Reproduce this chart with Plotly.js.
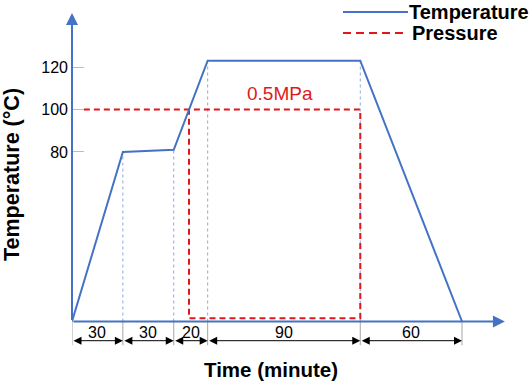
<!DOCTYPE html>
<html>
<head>
<meta charset="utf-8">
<script src="https://cdn.plot.ly/plotly-3.0.1.min.js"></script>
<style>html,body{margin:0;padding:0;background:#fff;}#chart{width:531px;height:384px;}</style>
</head>
<body>
<div id="chart"></div>
<script>
// ---- data ----
const minutes = [0, 30, 60, 80, 170, 230];          // cumulative process time
const temperature = [0, 80, 81, 123, 123, 0];       // °C
const pressureTime = [7, 170, 170, 69, 69];          // minutes
const pressureLevel = [100, 100, 1.5, 1.5, 100];     // drawn at 100 °C level
const stageLabels = ['30', '30', '20', '90', '60'];  // minutes per stage
const yTickVals = [80, 100, 120];
const yTickText = ['80', '100', '120'];
const seriesNames = ['Temperature', 'Pressure'];
const pressureText = '0.5MPa';
const xTitle = 'Time (minute)';
const yTitle = 'Temperature (\u00B0C)';

// ---- styling / layout ----
const W = 531, H = 384;
const M = {l: 72, r: 25, t: 10, b: 30};
const pw = W - M.l - M.r, ph = H - M.t - M.b;
const blue = '#4472C4', red = '#E0181C', guide = '#8EA9DB';
const FONT = 'Liberation Sans, Arial, sans-serif';
const px = x => (x - M.l) / pw;          // pixel -> paper x
const py = y => (H - M.b - y) / ph;      // pixel -> paper y

const xMax = pw / 1.6957;
const yPerPx = 1 / 2.12;
const yTop = (321.5 - M.t) * yPerPx;
const yBot = -(H - M.b - 321.5) * yPerPx;

const traces = [
  {x: pressureTime, y: pressureLevel, mode: 'lines', name: seriesNames[1],
   line: {color: red, width: 2, dash: '6px,4px'}, hoverinfo: 'skip'},
  {x: minutes, y: temperature, mode: 'lines', name: seriesNames[0],
   line: {color: blue, width: 2}, hoverinfo: 'skip'}
];

const shapes = [];
// light dashed guides from each break point down to the time axis
for (let i = 1; i < minutes.length - 1; i++) {
  shapes.push({type: 'line', layer: 'below', xref: 'x', yref: 'y',
    x0: minutes[i], x1: minutes[i], y0: 0, y1: temperature[i],
    line: {color: guide, width: 1, dash: '3px,3px'}});
}
// dimension extension lines below the axis
const dimBottom = -11.2;
for (let i = 0; i < minutes.length; i++) {
  shapes.push({type: 'line', layer: 'below', xref: 'x', yref: 'y',
    x0: minutes[i], x1: minutes[i], y0: 0, y1: dimBottom,
    line: {color: '#A6A6A6', width: 1}});
}
// legend samples
shapes.push({type: 'line', xref: 'paper', yref: 'paper', x0: px(343), x1: px(408), y0: py(12), y1: py(12),
  line: {color: blue, width: 2}});
shapes.push({type: 'line', xref: 'paper', yref: 'paper', x0: px(343), x1: px(408), y0: py(33), y1: py(33),
  line: {color: red, width: 2, dash: '8px,5px'}});

const annotations = [];
// axis arrows
annotations.push({x: 255.3, y: 0, ax: 0, ay: 0, xref: 'x', yref: 'y', axref: 'x', ayref: 'y', text: '',
  showarrow: true, arrowhead: 2, arrowsize: 1.2, arrowwidth: 2, arrowcolor: blue, standoff: 0});
annotations.push({x: 0, y: (321.5 - 13) * yPerPx, ax: 0, ay: 0, xref: 'x', yref: 'y', axref: 'x', ayref: 'y', text: '',
  showarrow: true, arrowhead: 2, arrowsize: 1.2, arrowwidth: 2, arrowcolor: blue, standoff: 0});
// dimension arrows + labels
const dimY = -(340.7 - 321.5) * yPerPx;
const labY = -(332 - 321.5) * yPerPx;
for (let i = 0; i < stageLabels.length; i++) {
  annotations.push({x: minutes[i + 1], y: dimY, ax: minutes[i], ay: dimY, xref: 'x', yref: 'y', axref: 'x', ayref: 'y',
    text: '', showarrow: true, arrowside: 'end+start', arrowhead: 2, startarrowhead: 2,
    arrowsize: 1.6, startarrowsize: 1.6, arrowwidth: 1, arrowcolor: '#000', standoff: 0, startstandoff: 0});
  annotations.push({x: (minutes[i] + minutes[i + 1]) / 2, y: labY, xref: 'x', yref: 'y', text: stageLabels[i],
    showarrow: false, font: {family: FONT, size: 16, color: '#000'}, xanchor: 'center', yanchor: 'middle'});
}
// pressure label
annotations.push({x: px(280), y: py(93), xref: 'paper', yref: 'paper', text: pressureText, showarrow: false,
  font: {family: FONT, size: 19, color: red}, xanchor: 'center', yanchor: 'middle'});
// legend text
annotations.push({x: px(407), y: py(12), xref: 'paper', yref: 'paper', text: '<b>' + seriesNames[0] + '</b>', showarrow: false,
  font: {family: FONT, size: 20, color: '#000'}, xanchor: 'left', yanchor: 'middle'});
annotations.push({x: px(410), y: py(33), xref: 'paper', yref: 'paper', text: '<b>' + seriesNames[1] + '</b>', showarrow: false,
  font: {family: FONT, size: 20, color: '#000'}, xanchor: 'left', yanchor: 'middle'});
// axis titles
annotations.push({x: px(271), y: py(369), xref: 'paper', yref: 'paper', text: '<b>' + xTitle + '</b>', showarrow: false,
  font: {family: FONT, size: 20.5, color: '#000'}, xanchor: 'center', yanchor: 'middle'});
annotations.push({x: px(12), y: py(175), xref: 'paper', yref: 'paper', text: '<b>' + yTitle + '</b>', showarrow: false,
  textangle: -90, font: {family: FONT, size: 21.5, color: '#000'}, xanchor: 'center', yanchor: 'middle'});

const layout = {
  width: W, height: H, margin: M, showlegend: false,
  paper_bgcolor: '#fff', plot_bgcolor: '#fff',
  font: {family: FONT, color: '#000'},
  xaxis: {range: [0, xMax], visible: false, fixedrange: true},
  yaxis: {range: [yBot, yTop], tickvals: yTickVals, ticktext: yTickText, ticks: 'inside', ticklen: 12,
    tickcolor: '#A9BEE4', tickwidth: 1, showline: false, showgrid: false, zeroline: false,
    tickfont: {family: FONT, size: 16, color: '#000'}, ticklabelstandoff: 3, fixedrange: true},
  shapes: shapes, annotations: annotations
};

Plotly.newPlot('chart', traces, layout, {staticPlot: true, displayModeBar: false});
</script>
</body>
</html>
